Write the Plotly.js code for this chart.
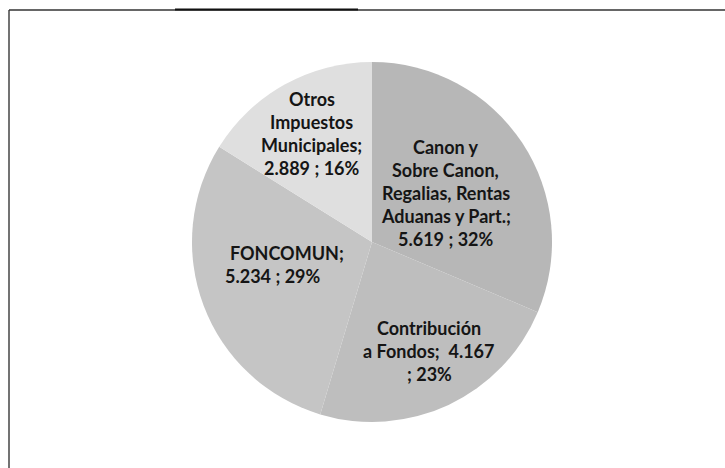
<!DOCTYPE html>
<html>
<head>
<meta charset="utf-8">
<script src="https://cdn.plot.ly/plotly-3.0.1.min.js"></script>
<style>html,body{margin:0;padding:0;background:#fff;}#chart{width:725px;height:468px;}</style>
</head>
<body>
<div id="chart"></div>
<script>
// Data
const categories = ["Canon y Sobre Canon, Regalias, Rentas Aduanas y Part.", "Contribución a Fondos", "FONCOMUN", "Otros Impuestos Municipales"];
const values = [5.619, 4.167, 5.234, 2.889];
const valueLabels = ["5.619", "4.167", "5.234", "2.889"];
const percentLabels = ["32%", "23%", "29%", "16%"];
const labelLines = [
  ["Canon y", "Sobre Canon,", "Regalias, Rentas", "Aduanas y Part.;", valueLabels[0] + " ; " + percentLabels[0]],
  ["Contribución", "a Fondos;  " + valueLabels[1], "; " + percentLabels[1]],
  ["FONCOMUN;", valueLabels[2] + " ; " + percentLabels[2]],
  ["Otros", "Impuestos", "Municipales;", valueLabels[3] + " ; " + percentLabels[3]]
];

// Styles
const colors = ["#b7b7b7", "#bebebe", "#c5c5c5", "#dfdfdf"];
const labelRadius = [0.49, 0.67, 0.36, 0.69];
const labelXShift = [0, 6, -88, 0];
const labelAnchor = ["center", "center", "left", "center"];
const W = 725, H = 468;
const cx = 372, cy = 242, R = 180;
const lineGap = 23;

const total = values.reduce((a, b) => a + b, 0);
const annotations = [];
let acc = 0;
values.forEach((v, i) => {
  const mid = (acc + v / 2) / total * 2 * Math.PI; // clockwise from 12 o'clock
  acc += v;
  const px = cx + Math.sin(mid) * R * labelRadius[i];
  const py = cy - Math.cos(mid) * R * labelRadius[i];
  const lines = labelLines[i];
  const n = lines.length;
  lines.forEach((t, j) => {
    annotations.push({
      text: "<b>" + t + "</b>",
      x: px / W, y: 1 - py / H, xref: "paper", yref: "paper",
      xanchor: labelAnchor[i],
      yanchor: "middle",
      xshift: labelXShift[i] + (i === 2 && j === 0 ? 5 : 0),
      yshift: -(j - (n - 1) / 2) * lineGap,
      showarrow: false,
      font: {family: "Lato, 'Open Sans', sans-serif", size: 18, color: "#151515"}
    });
  });
});

const shapes = [
  {type: "line", xref: "paper", yref: "paper", x0: 9 / W, x1: 9 / W, y0: 1 - 10 / H, y1: 0, line: {color: "#444", width: 1.5}},
  {type: "line", xref: "paper", yref: "paper", x0: 9 / W, x1: 1, y0: 1 - 10 / H, y1: 1 - 10 / H, line: {color: "#333", width: 1.3}},
  {type: "line", xref: "paper", yref: "paper", x0: 175 / W, x1: 358 / W, y0: 1 - 9.5 / H, y1: 1 - 9.5 / H, line: {color: "#111", width: 2.2}}
];

const trace = {
  type: "pie",
  labels: categories,
  values: values,
  sort: false,
  direction: "clockwise",
  rotation: 0,
  textinfo: "none",
  hoverinfo: "label+value+percent",
  marker: {colors: colors, line: {width: 0}},
  showlegend: false,
  domain: {x: [(cx - R) / W, (cx + R) / W], y: [1 - (cy + R) / H, 1 - (cy - R) / H]}
};

Plotly.newPlot("chart", [trace], {
  width: W, height: H,
  margin: {l: 0, r: 0, t: 0, b: 0},
  paper_bgcolor: "#fff",
  showlegend: false,
  annotations: annotations,
  shapes: shapes
}, {displayModeBar: false, staticPlot: true});
</script>
</body>
</html>
